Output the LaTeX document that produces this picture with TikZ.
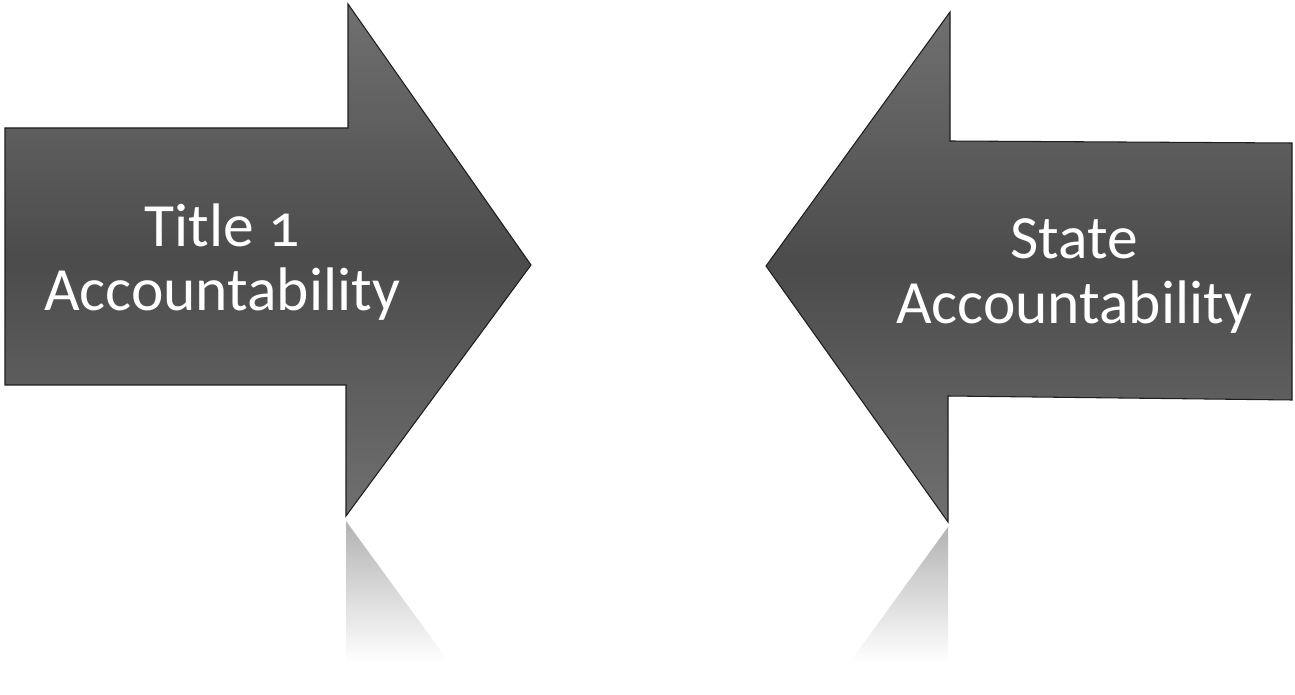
\documentclass[tikz,border=0pt]{standalone}
\usepackage{fontspec}
\setmainfont{Carlito}[Numbers=OldStyle]
\usepackage{tikz}
\usetikzlibrary{arrows.meta,positioning,calc}
\definecolor{arGray}{HTML}{4B4B4B}
\definecolor{arLight}{HTML}{707070}
\definecolor{arEdge}{HTML}{1E1E1E}

\begin{document}
\begin{tikzpicture}[x=0.02cm, y=-0.02cm, >=Stealth, line join=miter,
    arrowbody/.style={draw=arEdge, line width=0.6pt,
      top color=arLight, bottom color=arLight, middle color=arGray},
    mirrorbody/.style={top color=black!30, bottom color=white},
    arrowlabel/.style={text=white, font=\fontsize{35}{36.5}\selectfont,
      align=center, inner sep=0pt}]
  \useasboundingbox (0,0) rectangle (1295,695);

  % ── left arrow, pointing right ─────────────────────────────────────────
  \draw[arrowbody] (5,128) -- (348,128) -- (348,4) -- (531,265)
    -- (346,516) -- (346,385) -- (5,385) -- cycle;
  \node[arrowlabel] (titleone) at (222,262) {Title 1\\Accountability};

  % reflection under the head (fading)
  \shade[mirrorbody] (346,521) -- (449,662) -- (346,662) -- cycle;

  % ── right arrow, pointing left ─────────────────────────────────────────
  \draw[arrowbody] (1292,143) -- (950,141) -- (950,12) -- (766,266)
    -- (948,522) -- (948,396) -- (1292,400) -- cycle;
  \node[arrowlabel] (stateacc) at (1074,276) {State\\Accountability};

  % reflection under the head (fading)
  \shade[mirrorbody] (948,527) -- (850,662) -- (948,662) -- cycle;
\end{tikzpicture}
\end{document}
